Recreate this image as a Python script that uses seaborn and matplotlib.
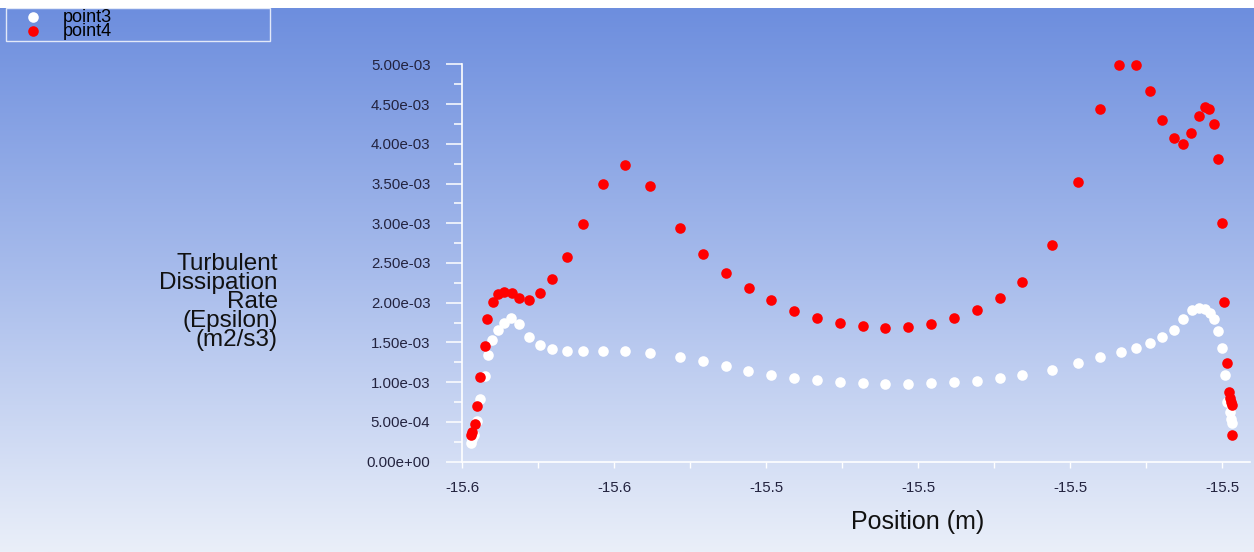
import numpy as np
import matplotlib
matplotlib.use("Agg")
import matplotlib.pyplot as plt
from matplotlib.colors import LinearSegmentedColormap
from matplotlib.ticker import MultipleLocator, FormatStrFormatter
import seaborn as sns

# ---------------- data ----------------
point3_x = [-15.57889, -15.57866, -15.57846, -15.57811, -15.57761, -15.57704, -15.57668,
            -15.57603, -15.57533, -15.57449, -15.57355, -15.57250, -15.57125, -15.56974,
            -15.56816, -15.56622, -15.56408, -15.56149, -15.55862, -15.55526, -15.55132,
            -15.54833, -15.54534, -15.54237, -15.53938, -15.53639, -15.53329, -15.53030,
            -15.52732, -15.52434, -15.52136, -15.51837, -15.51526, -15.51228, -15.50929,
            -15.50632, -15.50237, -15.49899, -15.49613, -15.49333, -15.49139, -15.48947,
            -15.48789, -15.48640, -15.48517, -15.48405, -15.48307, -15.48224, -15.48166,
            -15.48105, -15.48054, -15.48000, -15.47971, -15.47938, -15.47899, -15.47892,
            -15.47872]
point3_y = [0.240, 0.286, 0.331, 0.514, 0.789, 1.084, 1.340, 1.526, 1.656, 1.750, 1.811,
            1.735, 1.563, 1.469, 1.422, 1.393, 1.393, 1.393, 1.393, 1.368, 1.312, 1.262,
            1.199, 1.144, 1.094, 1.052, 1.027, 1.002, 0.989, 0.977, 0.977, 0.989, 1.002,
            1.015, 1.052, 1.094, 1.157, 1.237, 1.317, 1.380, 1.431, 1.494, 1.570, 1.653,
            1.801, 1.908, 1.931, 1.920, 1.873, 1.798, 1.649, 1.428, 1.094, 0.747, 0.627,
            0.541, 0.485]

point4_x = [-15.57886, -15.57868, -15.57833, -15.57803, -15.57763, -15.57705, -15.57671,
            -15.57600, -15.57530, -15.57447, -15.57350, -15.57250, -15.57122, -15.56974,
            -15.56816, -15.56622, -15.56408, -15.56149, -15.55863, -15.55526, -15.55136,
            -15.54829, -15.54534, -15.54232, -15.53938, -15.53639, -15.53329, -15.53030,
            -15.52732, -15.52434, -15.52136, -15.51837, -15.51526, -15.51228, -15.50929,
            -15.50632, -15.50237, -15.49899, -15.49613, -15.49353, -15.49139, -15.48947,
            -15.48789, -15.48640, -15.48517, -15.48408, -15.48311, -15.48228, -15.48171,
            -15.48105, -15.48057, -15.48000, -15.47974, -15.47934, -15.47908, -15.47895,
            -15.47886, -15.47876, -15.47876]
point4_y = [0.337, 0.379, 0.476, 0.707, 1.060, 1.460, 1.797, 2.006, 2.112, 2.132, 2.125,
            2.057, 2.040, 2.125, 2.293, 2.579, 2.996, 3.488, 3.735, 3.470, 2.940, 2.617,
            2.368, 2.183, 2.032, 1.902, 1.809, 1.741, 1.703, 1.678, 1.696, 1.731, 1.809,
            1.914, 2.057, 2.264, 2.731, 3.513, 4.434, 4.993, 4.993, 4.665, 4.303, 4.072,
            3.992, 4.139, 4.346, 4.463, 4.438, 4.252, 3.811, 3.008, 2.015, 1.237, 0.876,
            0.800, 0.750, 0.712, 0.337]

series_names = ["point3", "point4"]
series_colors = ["#ffffff", "#ff0000"]
x_label = "Position (m)"
y_label = "Turbulent\nDissipation\nRate\n(Epsilon)\n(m2/s3)"

p3y = np.array(point3_y) * 1e-3
p4y = np.array(point4_y) * 1e-3

# ---------------- style ----------------
sns.set_theme(style="white")
plt.rcParams["font.family"] = ["Liberation Sans", "DejaVu Sans"]
plt.rcParams["axes.unicode_minus"] = False

W, H = 1254, 552
fig = plt.figure(figsize=(W / 100, H / 100), dpi=100, facecolor="white")

# gradient background (white strip at the very top)
top_strip = 8
bg = fig.add_axes([0, 0, 1, 1 - top_strip / H], zorder=-5)
cmap = LinearSegmentedColormap.from_list("bg", ["#6d8ede", "#a9bdec", "#eaeff9"])
grad = np.linspace(0, 1, 256).reshape(-1, 1)
bg.imshow(grad, aspect="auto", cmap=cmap, extent=[0, 1, 0, 1], origin="upper")
bg.axis("off")

ax_l, ax_r, ax_b, ax_t = 462.3, 1250, 461.7, 64.3
ax = fig.add_axes([ax_l / W, (H - ax_b) / H, (ax_r - ax_l) / W, (ax_b - ax_t) / H])
ax.set_facecolor("none")

sns.scatterplot(x=point3_x, y=p3y, ax=ax, color=series_colors[0], s=58, linewidth=0,
                label=series_names[0], clip_on=False, zorder=3)
sns.scatterplot(x=point4_x, y=p4y, ax=ax, color=series_colors[1], s=58, linewidth=0,
                label=series_names[1], clip_on=False, zorder=4)

ax.set_xlim(-15.58, -15.58 + (ax_r - ax_l) / 7600)
ax.set_ylim(0, 5e-3)

for s in ["top", "right"]:
    ax.spines[s].set_visible(False)
for s in ["left", "bottom"]:
    ax.spines[s].set_color("white")
    ax.spines[s].set_linewidth(1.2)

ax.xaxis.set_major_locator(MultipleLocator(0.02))
ax.xaxis.set_minor_locator(MultipleLocator(0.01))
ax.xaxis.set_major_formatter(FormatStrFormatter("%.1f"))
ax.yaxis.set_major_locator(MultipleLocator(5e-4))
ax.yaxis.set_minor_locator(MultipleLocator(2.5e-4))
ax.yaxis.set_major_formatter(FormatStrFormatter("%.2e"))

lab_col = "#23233f"
ax.tick_params(axis="y", which="major", direction="out", length=11.5, width=1.1,
               color="white", pad=11.5, labelsize=10.8, labelcolor=lab_col, left=True)
ax.tick_params(axis="y", which="minor", direction="out", length=5.8, width=1.1,
               color="white", left=True)
ax.tick_params(axis="x", which="both", direction="out", length=4.3, width=1.0,
               color="white", bottom=True)
ax.tick_params(axis="x", which="major", pad=9.5, labelsize=10.8, labelcolor=lab_col)

ax.set_xlabel(x_label, fontsize=18, color="#111111")
ax.xaxis.set_label_coords((918 - ax_l) / (ax_r - ax_l), (ax_b - 522) / (ax_b - ax_t))
ax.xaxis.label.set_va("center")
ax.set_ylabel(y_label, fontsize=17.5, color="#111111", rotation=0, ha="right",
              va="center", multialignment="right", linespacing=0.83)
ax.yaxis.set_label_coords((278 - ax_l) / (ax_r - ax_l), (ax_b - 302) / (ax_b - ax_t))

# legend
fs = 13
leg = ax.legend(loc="upper left", bbox_to_anchor=(6 / W, 1 - top_strip / H, 264 / W, 0),
                bbox_transform=fig.transFigure, mode="expand", frameon=True,
                fancybox=False, fontsize=fs, labelspacing=-0.15, borderpad=0.05,
                handlelength=2.9, handletextpad=0.22, borderaxespad=0,
                markerscale=1.0)
leg.get_frame().set_facecolor("none")
leg.get_frame().set_edgecolor("white")
leg.get_frame().set_linewidth(1.0)
for t in leg.get_texts():
    t.set_color("#000000")

fig.savefig("out.png", dpi=100)
